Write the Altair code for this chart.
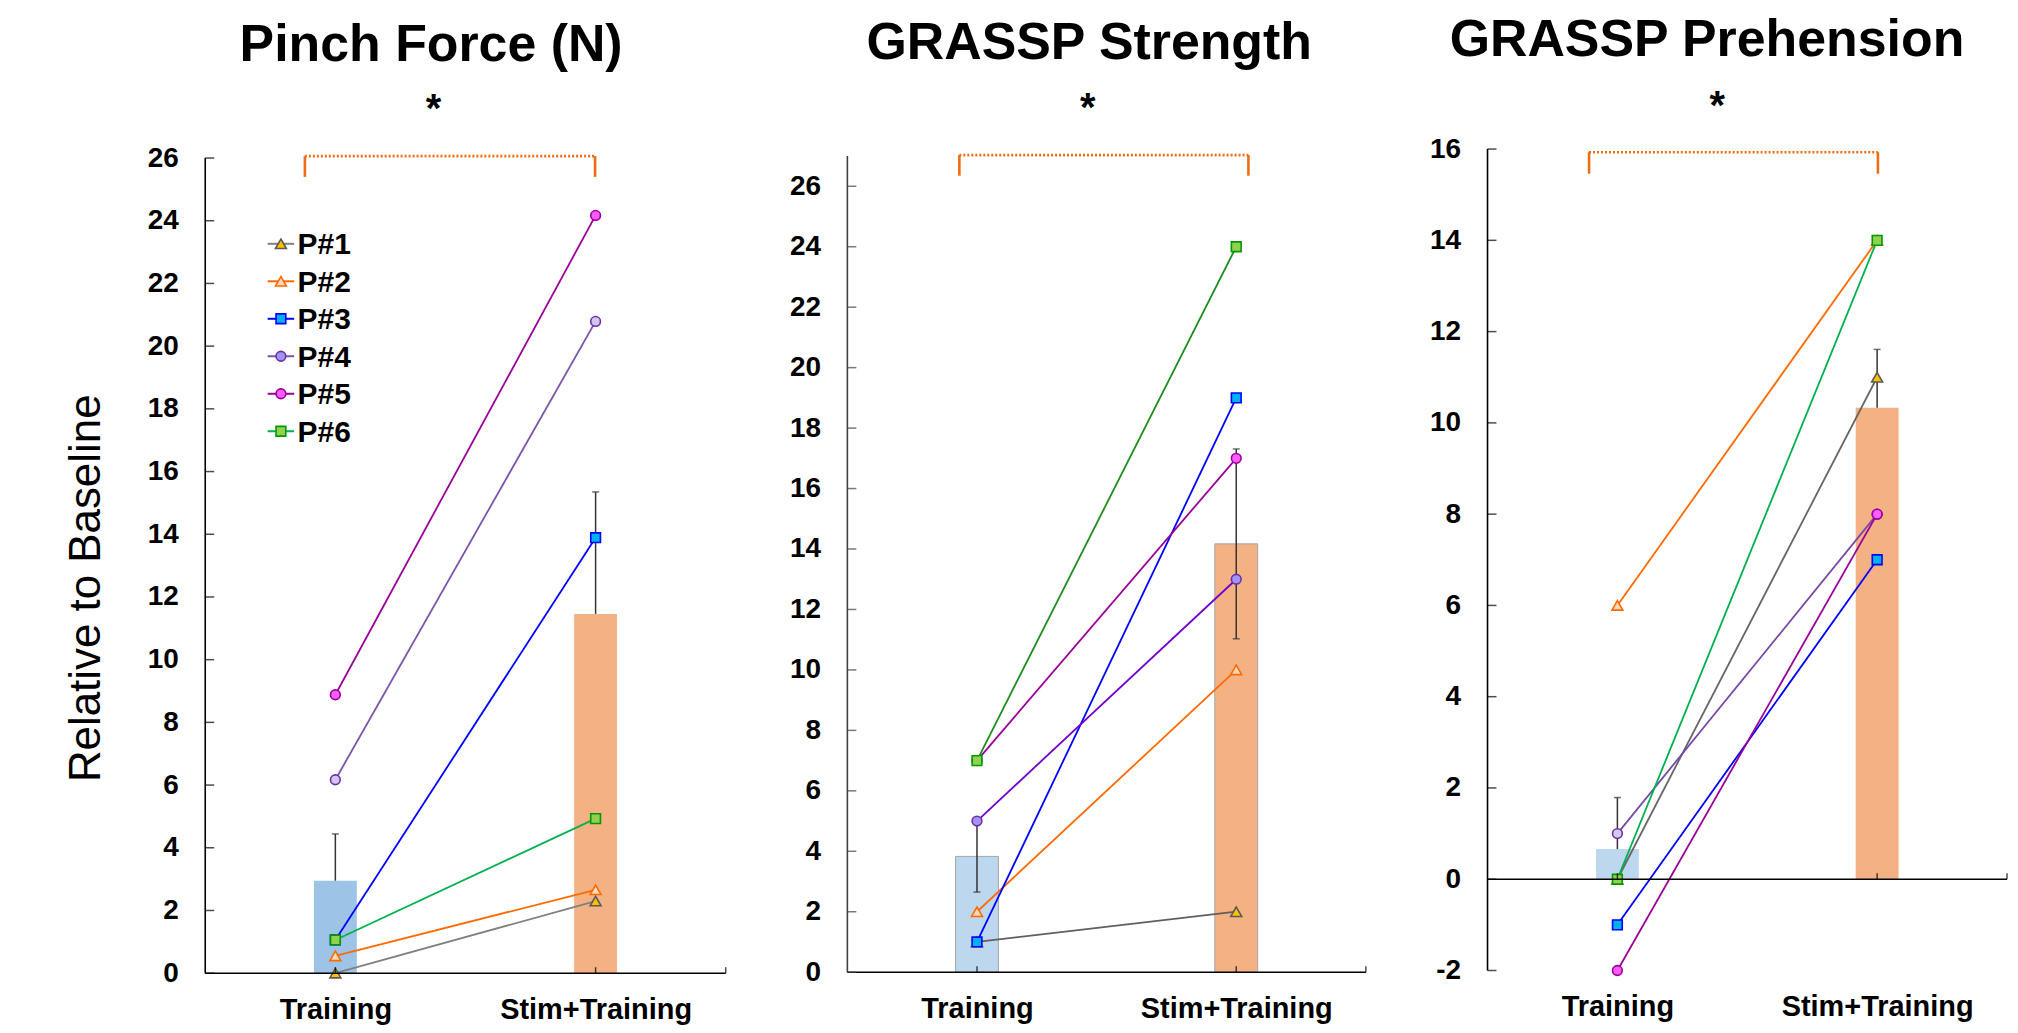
import altair as alt
import pandas as pd

# ---------------- data ----------------
categories = ["Training", "Stim+Training"]
participants = ["P#1", "P#2", "P#3", "P#4", "P#5", "P#6"]
panel_titles = ["Pinch Force (N)", "GRASSP Strength", "GRASSP Prehension"]
y_title = "Relative to Baseline"
significance = "*"

# individual participants (P#1 .. P#6)
pinch_training = [0.0, 0.55, 1.06, 6.17, 8.88, 1.06]
pinch_stim = [2.3, 2.66, 13.89, 20.79, 24.17, 4.93]
strength_training = [1, 2, 1, 5, 7, 7]
strength_stim = [2, 10, 19, 13, 17, 24]
prehension_training = [0, 6, -1, 1, -2, 0]
prehension_stim = [11, 14, 7, 8, 8, 14]

# group bars (mean) and error bars (SEM): Training, Stim+Training
pinch_mean = [2.95, 11.46]
pinch_sem = [1.49, 3.89]
strength_mean = [3.83, 14.17]
strength_sem = [1.18, 3.14]
prehension_mean = [0.66, 10.33]
prehension_sem = [1.13, 1.28]

# y-axis tick values
pinch_ticks = [0, 2, 4, 6, 8, 10, 12, 14, 16, 18, 20, 22, 24, 26]
strength_ticks = [0, 2, 4, 6, 8, 10, 12, 14, 16, 18, 20, 22, 24, 26]
prehension_ticks = [-2, 0, 2, 4, 6, 8, 10, 12, 14, 16]

# ---------------- styles ----------------
FONT = "Liberation Sans, Arial, Helvetica, sans-serif"
ORANGE = "#ef6c12"
marker_shapes = ["triangle-up", "triangle-up", "square", "circle", "circle", "square"]
marker_sizes = [120, 120, 95, 95, 95, 95]
marker_strokes = ["#595959", "#ff6a00", "#0000ff", "#7030a0", "#990099", "#009900"]
marker_fills_by_panel = [
    ["#ffc000", "#fcd9bd", "#00b0f0", "#cfc6f2", "#ff5cff", "#92d050"],
    ["#ffc000", "#fcd9bd", "#00b0f0", "#9d94f6", "#ff5cff", "#92d050"],
    ["#ffc000", "#fcd9bd", "#00b0f0", "#d2caf2", "#ff5cff", "#92d050"],
]
line_colors_by_panel = [
    ["#808080", "#ff6a00", "#0000ff", "#7b55aa", "#990099", "#00b050"],
    ["#5f5f5f", "#ff6a00", "#0000ff", "#7000cc", "#990099", "#1e8c1e"],
    ["#666666", "#ff6a00", "#0000ff", "#7848a8", "#990099", "#00b050"],
]

panels = [
    dict(train=pinch_training, stim=pinch_stim, mean=pinch_mean, sem=pinch_sem,
         ticks=pinch_ticks, ylo=0, yhi=26, ytop=26.286, width=522, height=826.5,
         two_sided=False, title_x=1.368, title_y=-88.7, star_x=1.377, star_y=-27.2,
         bracket=(0.883, 1.998, 26.06, 25.40), bar_colors=["#9dc3e6", "#f4b183"],
         bar_stroke=None, axis_color="black"),
    dict(train=strength_training, stim=strength_stim, mean=strength_mean, sem=strength_sem,
         ticks=strength_ticks, ylo=0, yhi=27, ytop=27.231, width=520, height=825.5,
         two_sided=True, title_x=1.433, title_y=-90.3, star_x=1.427, star_y=-28.2,
         bracket=(0.932, 2.047, 27.03, 26.35), bar_colors=["#bdd7ee", "#f4b183"],
         bar_stroke="#a6a6a6", axis_color="#404040"),
    dict(train=prehension_training, stim=prehension_stim, mean=prehension_mean,
         sem=prehension_sem, ticks=prehension_ticks, ylo=-2, yhi=16, ytop=16,
         width=521, height=823.8, two_sided=False, title_x=1.345, title_y=-93,
         star_x=1.385, star_y=-30.2, bracket=(0.891, 2.003, 15.93, 15.46),
         bar_colors=["#bdd7ee", "#f4b183"], bar_stroke=None, axis_color="black"),
]

label_expr = f"datum.value == 1 ? '{categories[0]}' : '{categories[1]}'"


def make_panel(i):
    P = panels[i]
    lc = line_colors_by_panel[i]
    mf = marker_fills_by_panel[i]
    xs = alt.Scale(domain=[0.5, 2.5], nice=False, zero=False, padding=0)
    ys = alt.Scale(domain=[P["ylo"], P["ytop"]], nice=False, zero=False, padding=0)

    rows = []
    for j, p in enumerate(participants):
        for k, val in enumerate([P["train"][j], P["stim"][j]]):
            rows.append(dict(series=p, x=k + 1, value=val, lc=lc[j], mf=mf[j],
                             ms=marker_strokes[j], shp=marker_shapes[j],
                             sz=marker_sizes[j], order=j))
    pts = pd.DataFrame(rows)

    bars_df = pd.DataFrame({"x": [1, 2], "mean": P["mean"], "base": [0, 0],
                            "bc": P["bar_colors"]})
    hi = [m + s for m, s in zip(P["mean"], P["sem"])]
    lo = [m - s for m, s in zip(P["mean"], P["sem"])] if P["two_sided"] else list(P["mean"])
    err_df = pd.DataFrame({"x": [1, 2], "lo": lo, "hi": hi})
    caps = [{"x": k + 1, "c": hi[k]} for k in range(2)]
    if P["two_sided"]:
        caps += [{"x": k + 1, "c": lo[k]} for k in range(2)]
    cap_df = pd.DataFrame(caps)

    frame_df = pd.DataFrame({"x0": [0.5], "x1": [2.5], "ylo": [P["ylo"]],
                             "yhi": [P["yhi"]], "zero": [0]})
    ytick_df = pd.DataFrame({"t": P["ticks"], "x0": [0.5] * len(P["ticks"])})
    xtick_df = pd.DataFrame({"xt": [1, 2, 2.5], "zero": [0, 0, 0]})
    b = P["bracket"]
    br_h = pd.DataFrame({"bx0": [b[0]], "bx1": [b[1]], "by": [b[2]]})
    br_v = pd.DataFrame({"bx": [b[0], b[1]], "yt": [b[2], b[2]], "yb": [b[3], b[3]]})
    star_df = pd.DataFrame({"sx": [P["star_x"]]})
    title_df = pd.DataFrame({"tx": [P["title_x"]], "txt": [panel_titles[i]]})

    xaxis = alt.Axis(values=[1, 2], labelExpr=label_expr, domain=False, ticks=False,
                     tickSize=0, grid=False, labelFontSize=29, labelFontWeight="bold",
                     labelPadding=22, labelAngle=0, labelFlush=False, labelLimit=0,
                     labelOverlap=False, labelColor="black", labelFont=FONT)
    yaxis_kw = dict(values=P["ticks"], labelExpr="'' + datum.value", domain=False,
                    ticks=False, tickSize=0, grid=False, labelFontSize=28,
                    labelFontWeight="bold", labelPadding=27, labelFlush=False,
                    labelLimit=0, labelOverlap=False, labelColor="black", labelFont=FONT)
    if i == 0:
        yaxis_kw.update(titleX=-119, titleY=440, titleAngle=270, titleAlign="center",
                        titleBaseline="middle", titleFontSize=44, titleLimit=0,
                        titleFontWeight="normal", titleColor="black", titleFont=FONT)
    yaxis = alt.Axis(**yaxis_kw)
    ytitle = y_title if i == 0 else None

    def X(f):
        return alt.X(f, type="quantitative", scale=xs, axis=xaxis, title=None)

    def Y(f):
        return alt.Y(f, type="quantitative", scale=ys, axis=yaxis, title=ytitle)

    bar_kw = dict(size=43)
    if P["bar_stroke"]:
        bar_kw.update(stroke=P["bar_stroke"], strokeWidth=1)
    bars = alt.Chart(bars_df).mark_bar(**bar_kw).encode(
        x=X("x"), y=Y("mean"), y2="base:Q", color=alt.Color("bc:N", scale=None))
    err = alt.Chart(err_df).mark_rule(color="#333333", strokeWidth=1.5).encode(
        x=X("x"), y=Y("lo"), y2="hi:Q")
    cap = alt.Chart(cap_df).mark_tick(orient="horizontal", size=7, thickness=1.5,
                                      color="#333333").encode(x=X("x"), y=Y("c"))
    lines = alt.Chart(pts).mark_line(strokeWidth=1.8).encode(
        x=X("x"), y=Y("value"), detail="series:N",
        color=alt.Color("lc:N", scale=None), order=alt.Order("x:Q"))
    points = alt.Chart(pts).mark_point(filled=True, strokeWidth=1.6, opacity=1).encode(
        x=X("x"), y=Y("value"),
        fill=alt.Fill("mf:N", scale=None), stroke=alt.Stroke("ms:N", scale=None),
        shape=alt.Shape("shp:N", scale=None), size=alt.Size("sz:Q", scale=None),
        order=alt.Order("order:Q"))
    xline = alt.Chart(frame_df).mark_rule(color="black", strokeWidth=1.5).encode(
        x=X("x0"), x2="x1:Q", y=Y("zero"))
    yline = alt.Chart(frame_df).mark_rule(color=P["axis_color"], strokeWidth=1.6).encode(
        x=X("x0"), y=Y("ylo"), y2="yhi:Q")
    yticks = alt.Chart(ytick_df).mark_tick(orient="horizontal", size=9, thickness=1.5,
                                           xOffset=4.5, color=P["axis_color"]).encode(
        x=X("x0"), y=Y("t"))
    xticks = alt.Chart(xtick_df).mark_tick(orient="vertical", size=6, thickness=1.5,
                                           yOffset=-3, color="black").encode(
        x=X("xt"), y=Y("zero"))
    bh = alt.Chart(br_h).mark_rule(color=ORANGE, strokeWidth=2.6, strokeDash=[2, 2]).encode(
        x=X("bx0"), x2="bx1:Q", y=Y("by"))
    bv = alt.Chart(br_v).mark_rule(color=ORANGE, strokeWidth=2.6).encode(
        x=X("bx"), y=Y("yb"), y2="yt:Q")
    star = alt.Chart(star_df).mark_text(text=significance, fontSize=40, fontWeight="bold",
                                        font=FONT, baseline="alphabetic", align="center",
                                        color="black").encode(
        x=X("sx"), y=alt.value(P["star_y"]))
    title = alt.Chart(title_df).mark_text(fontSize=52, fontWeight="bold", font=FONT,
                                          baseline="alphabetic", align="center",
                                          color="black").encode(
        x=X("tx"), y=alt.value(P["title_y"]), text="txt:N")

    layers = [bars, err, cap, lines, points, xline, yline, yticks, xticks, bh, bv,
              star, title]

    if i == 0:
        base = alt.Chart(pd.DataFrame({"k": [0]}))
        for j, p in enumerate(participants):
            yy = 95 + j * 37.6
            layers.append(base.mark_rule(color=lc[j], strokeWidth=2).encode(
                x=alt.value(62.6), x2=alt.value(89.2), y=alt.value(yy)))
            layers.append(base.mark_point(shape=marker_shapes[j], filled=True,
                                          fill=marker_fills_by_panel[1][j],
                                          stroke=marker_strokes[j], strokeWidth=1.6,
                                          size=marker_sizes[j], opacity=1).encode(
                x=alt.value(75.9), y=alt.value(yy)))
            layers.append(base.mark_text(text=p, align="left", baseline="middle",
                                         fontSize=30, fontWeight="bold", font=FONT,
                                         color="black").encode(
                x=alt.value(92.6), y=alt.value(yy + 1.7)))

    return alt.layer(*layers).properties(width=P["width"], height=P["height"])


chart = alt.hconcat(make_panel(0), make_panel(1), make_panel(2),
                    spacing=122, bounds="flush").properties(
    padding={"left": 56.8, "top": 5, "right": 2, "bottom": 2},
    background="white",
).configure_view(stroke=None)

chart.save("out.html", embed_options={"renderer": "svg", "actions": False})
